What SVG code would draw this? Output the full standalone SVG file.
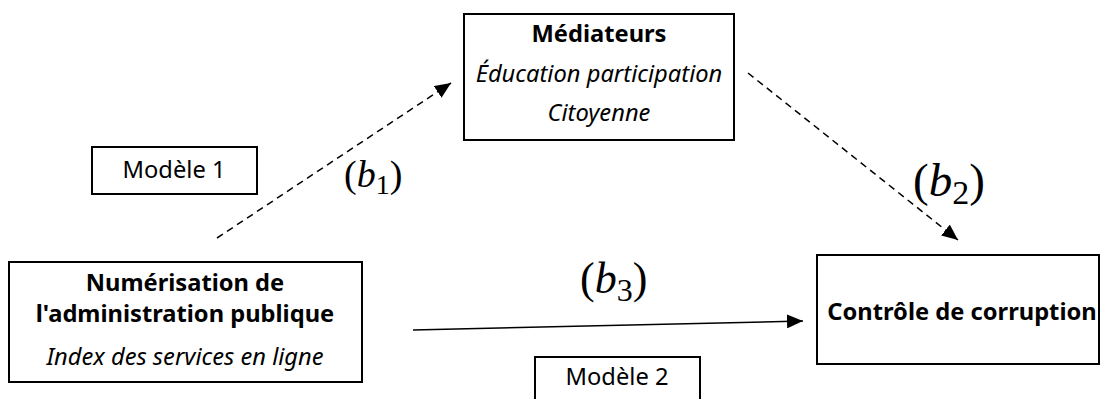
<svg xmlns="http://www.w3.org/2000/svg" width="1100" height="399" viewBox="0 0 1100 399">
<defs>
<style>
.box{fill:#fff;stroke:#000;stroke-width:2}
.t{font-family:"Noto Sans","Open Sans",sans-serif;font-size:23.7px;fill:#000;text-anchor:middle}
.b{font-weight:bold}
.i{font-style:italic}
.m{font-family:"Liberation Serif",serif;fill:#000}
.edge{stroke:#000;stroke-width:1.5;fill:none}
.dash{stroke-dasharray:7,5}
</style>
<marker id="ahb" viewBox="0 0 10 10" refX="10" refY="5" markerWidth="16" markerHeight="14" markerUnits="userSpaceOnUse" orient="auto" preserveAspectRatio="none">
<path d="M0,0 L10,5 L0,10 z" fill="#000"/>
</marker>
</defs>
<rect width="1100" height="399" fill="#fff"/>
<g id="connectors">
<line class="edge dash" x1="217" y1="238" x2="451" y2="83" marker-end="url(#ahb)"/>
<line class="edge dash" x1="748" y1="73" x2="958" y2="240" marker-end="url(#ahb)"/>
<line class="edge" x1="413" y1="330" x2="803" y2="321" marker-end="url(#ahb)"/>
</g>
<g id="mediateurs">
<rect class="box" x="464" y="14" width="270" height="126"/>
<text class="t b" x="599" y="42">Médiateurs</text>
<text class="t i" x="599" y="82">Éducation participation</text>
<text class="t i" x="599" y="121">Citoyenne</text>
</g>
<g id="numerisation">
<rect class="box" x="9" y="262" width="353" height="120"/>
<text class="t b" x="185" y="291">Numérisation de</text>
<text class="t b" x="185" y="322">l'administration publique</text>
<text class="t i" x="185" y="365">Index des services en ligne</text>
</g>
<g id="controle">
<rect class="box" x="817" y="255" width="282" height="109"/>
<text class="t b" x="962" y="320">Contrôle de corruption</text>
</g>
<g id="modele1">
<rect class="box" x="92" y="147" width="165" height="47"/>
<text class="t" x="174" y="178">Modèle 1</text>
</g>
<g id="modele2">
<rect class="box" x="535" y="357" width="165" height="50"/>
<text class="t" x="617" y="385">Modèle 2</text>
</g>
<g id="labels">
<text class="m" x="344" y="187" font-size="38">(<tspan font-style="italic">b</tspan><tspan font-size="28" dy="7">1</tspan><tspan dy="-7">)</tspan></text>
<text class="m" x="913" y="196" font-size="47">(<tspan font-style="italic">b</tspan><tspan font-size="34" dy="8">2</tspan><tspan dy="-8">)</tspan></text>
<text class="m" x="580" y="293" font-size="44">(<tspan font-style="italic">b</tspan><tspan font-size="32" dy="8">3</tspan><tspan dy="-8">)</tspan></text>
</g>
</svg>
